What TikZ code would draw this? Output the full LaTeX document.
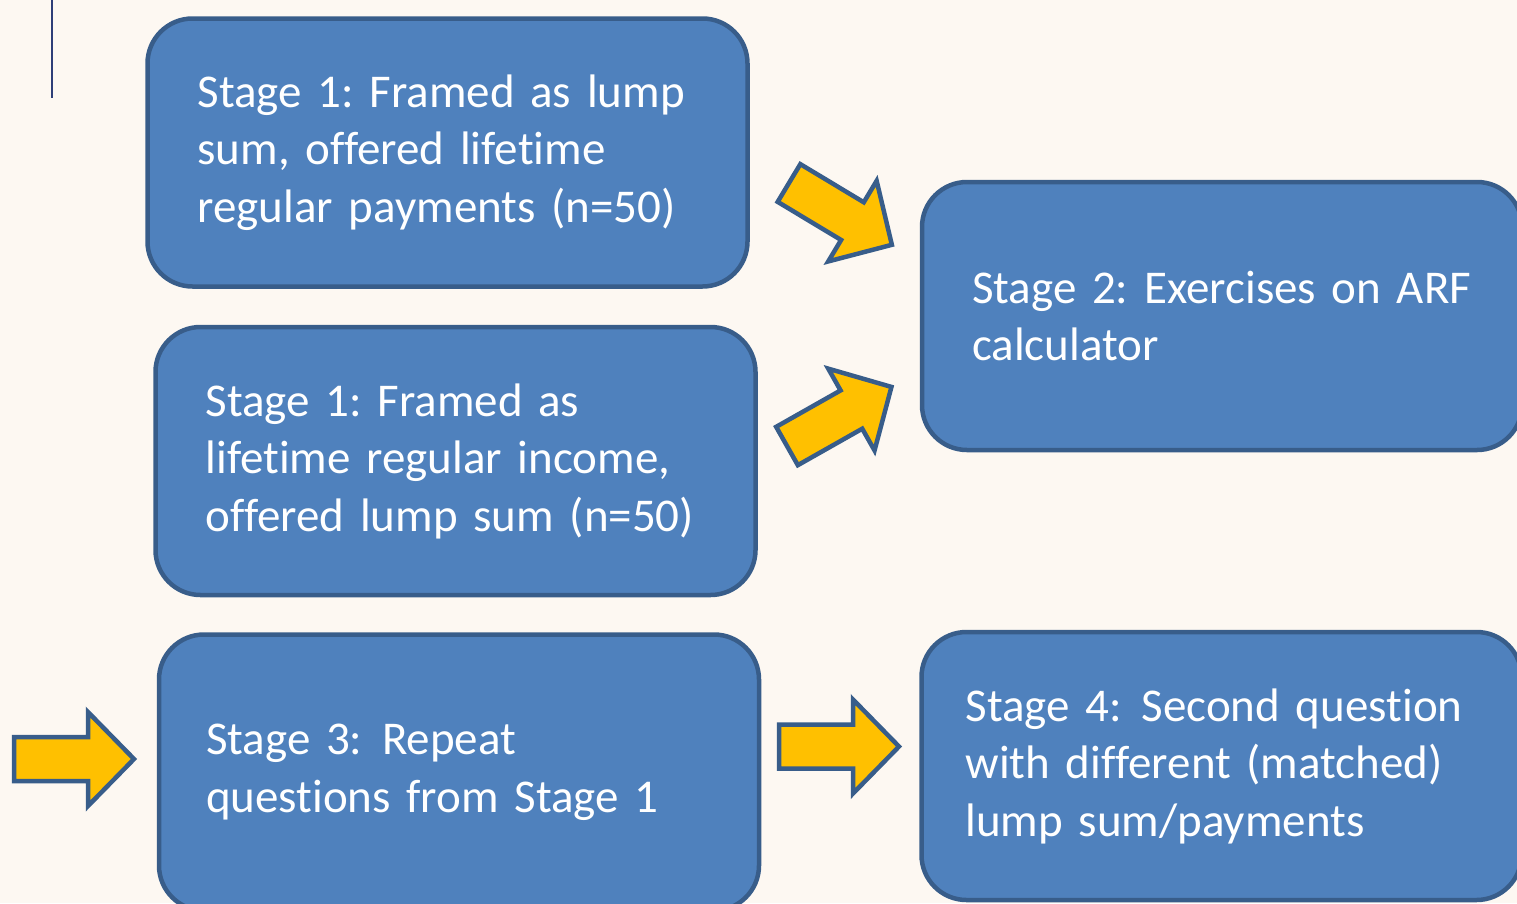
\documentclass[tikz,border=0pt]{standalone}
\usepackage{fontspec}
\setmainfont{Carlito}[Ligatures=NoCommon]
\definecolor{bgcream}{HTML}{FDF8F2}
\definecolor{boxblue}{HTML}{4F81BD}
\definecolor{boxline}{HTML}{385D8A}
\definecolor{arrowgold}{HTML}{FFC000}
\definecolor{rulenavy}{HTML}{2E3F78}
\newcommand\stagefont{\fontsize{47}{57.5}\selectfont\frenchspacing\hyphenpenalty=10000\relax}

\tikzset{
  stagebox/.style={draw=boxline, fill=boxblue, line width=4.5pt, rounded corners=45pt,
    minimum width=600pt, minimum height=268pt, text width=500pt, inner xsep=50pt,
    align=left, text=white, font=\stagefont},
  arrowfill/.style={draw=boxline, fill=arrowgold, line width=4.5pt},
  pics/fatarrow/.style={code={
    \draw[arrowfill] (0,-22) -- (74,-22) -- (74,-47) -- (120,0) -- (74,47) -- (74,22) -- (0,22) -- cycle;
  }}
}

\begin{document}
\begin{tikzpicture}[x=1pt, y=-1pt]
  \useasboundingbox (0,0) rectangle (1517,903);
  \clip (0,0) rectangle (1517,903);
  \fill[bgcream] (0,0) rectangle (1517,903);
  \draw[rulenavy, line width=2pt] (52,0) -- (52,98);

  % left column
  \node[stagebox] (lump) at (447.5,152.5) {Stage 1: Framed as lump\\sum, offered lifetime\\regular payments (n=50)};
  \node[stagebox] (income) at (455.5,461) {Stage 1: Framed as\\lifetime regular income,\\offered lump sum (n=50)};
  \node[stagebox, minimum height=276pt, inner xsep=47pt, text width=506pt] (repeat) at (459,772.5) {Stage 3:\kern4pt{} Repeat\\questions from Stage 1};

  % right column
  \node[stagebox] (arf) at (1222,316) {Stage 2: Exercises on ARF\\calculator};
  \node[stagebox, inner xsep=44pt, text width=512pt] (second) at (1221.5,766) {Stage 4:\kern4pt{} Second question\\with different (matched)\\lump sum/payments};

  % block arrows
  \pic[rotate=-31] (lumparrow) at (789,183) {fatarrow};
  \pic[rotate=29.5] (incomearrow) at (787,446) {fatarrow};
  \pic (inarrow) at (14,759) {fatarrow};
  \pic (repeatarrow) at (779,746.5) {fatarrow};
\end{tikzpicture}
\end{document}
